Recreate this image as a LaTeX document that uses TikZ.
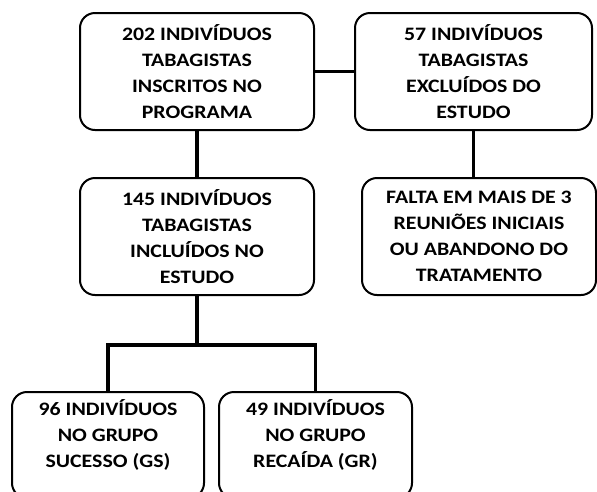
\documentclass[tikz,border=0pt]{standalone}
\usepackage{fontspec}
\setmainfont{Carlito}[FakeStretch=1.15]
\usetikzlibrary{positioning}

\tikzset{
  caixa/.style={draw, line width=2pt, rounded corners=15pt, align=center,
    minimum width=234pt, minimum height=117pt, inner sep=0pt,
    font=\fontsize{19}{26}\selectfont\bfseries},
  liga/.style={line width=3.2pt}
}

\begin{document}
\begin{tikzpicture}[x=1pt,y=-1pt]
\useasboundingbox (0,0) rectangle (597,491);
\clip (0,0) rectangle (597,491);
\node[caixa] (inscritos) at (197,71.5) {202 INDIVÍDUOS\\TABAGISTAS\\INSCRITOS NO\\PROGRAMA};
\node[caixa, minimum width=237pt] (excluidos) at (473.5,71.5) {57 INDIVÍDUOS\\TABAGISTAS\\EXCLUÍDOS DO\\ESTUDO};
\node[caixa] (incluidos) at (197,236.5) {145 INDIVÍDUOS\\TABAGISTAS\\INCLUÍDOS NO\\ESTUDO};
\node[caixa] (falta) at (479,236.5) {FALTA EM MAIS DE 3\\REUNIÕES INICIAIS\\OU ABANDONO DO\\TRATAMENTO};
\node[caixa, minimum width=192pt, minimum height=106pt, text depth=22pt] (sucesso) at (108,445) {96 INDIVÍDUOS\\NO GRUPO\\SUCESSO (GS)};
\node[caixa, minimum width=193pt, minimum height=106pt, text depth=22pt] (recaida) at (315.5,445) {49 INDIVÍDUOS\\NO GRUPO\\RECAÍDA (GR)};
\coordinate (divide) at (197,345);
\draw[liga] (inscritos) -- (excluidos);
\draw[liga] (inscritos) -- (incluidos);
\draw[liga] (excluidos.south) -- (excluidos.south |- falta.north);
\draw[liga] (incluidos) -- (divide);
\draw[liga] (sucesso.north) |- (divide) -| (recaida.north);
\end{tikzpicture}
\end{document}
